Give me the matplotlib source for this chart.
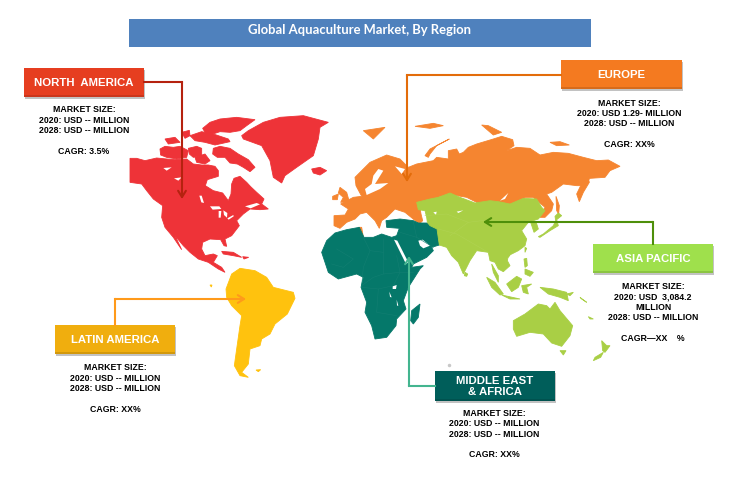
import matplotlib
matplotlib.use("Agg")
import matplotlib.pyplot as plt
from matplotlib.patches import Polygon, Rectangle

plt.rcParams['font.family'] = ['Liberation Sans', 'DejaVu Sans']

TITLE = "Global Aquaculture Market, By Region"

NA_ORIGIN = (130, 90)
north_america = [
    [(0,208),(20,208),(45,215),(80,207),(110,210),(135,212),(170,210),(190,225),(215,228),(235,228),(255,232),(265,245),(265,262),(232,272),(226,290),(250,305),(278,312),(295,335),(303,315),(305,285),(312,268),(330,262),(350,280),(362,293),(380,310),(402,330),(395,345),(415,360),(390,362),(360,360),(340,375),(320,395),(328,410),(305,440),(285,450),(290,472),(282,470),(272,452),(240,450),(218,460),(215,480),(225,500),(250,495),(262,500),(250,520),(275,535),(285,550),(265,540),(235,520),(205,510),(180,490),(160,470),(135,440),(155,482),(130,445),(105,415),(95,385),(98,350),(70,330),(50,305),(35,285),(0,280)],
    [(90,180),(105,172),(130,175),(150,172),(175,185),(170,205),(140,210),(110,205),(92,198)],
    [(175,178),(200,172),(215,178),(215,200),(190,205),(178,195)],
    [(195,205),(225,195),(240,215),(225,225),(200,220)],
    [(250,178),(270,172),(300,178),(325,195),(355,212),(375,235),(360,248),(340,235),(322,225),(300,222),(285,205),(262,205),(248,195)],
    [(218,118),(240,100),(270,90),(320,85),(375,92),(350,110),(330,125),(300,130),(270,128),(240,138),(225,130)],
    [(215,128),(250,135),(295,150),(300,158),(255,168),(225,160),(195,155),(180,140)],
    [(105,150),(135,145),(150,160),(115,165)],
    [(155,130),(178,124),(180,140),(165,148)],
    [(355,125),(400,100),(450,85),(520,80),(595,100),(570,115),(565,150),(550,200),(500,235),(465,260),(455,282),(430,265),(420,215),(395,170),(340,150),(335,140)],
    [(545,240),(570,235),(590,245),(570,258),(550,252)],
    [(275,487),(310,490),(335,505),(310,500),(280,495)],
    [(338,503),(356,505),(342,510)],
]
na_water = [
    [(240,352),(268,352),(274,360),(248,362)],
    [(266,366),(274,366),(272,386),(266,386)],
    [(280,364),(292,372),(291,386),(282,378)],
    [(292,388),(310,378),(311,382),(296,392)],
    [(208,320),(215,320),(222,342),(214,340)],
    [(345,352),(380,342),(390,346),(362,358)],
    [(100,237),(125,235),(110,245)],
    [(132,268),(155,265),(145,275)],
]

EU_ORIGIN = (320, 90)
europe = [
    [(42,380),(75,378),(85,360),(62,345),(100,325),(125,322),(108,290),(105,265),(150,220),(200,198),(240,210),(265,235),(290,225),(340,215),(350,205),(385,210),(385,185),(410,180),(418,195),(430,190),(445,175),(470,165),(520,150),(545,142),(578,152),(582,170),(560,185),(590,175),(630,178),(660,198),(700,190),(745,193),(790,205),(830,215),(865,213),(900,232),(870,245),(855,265),(810,268),(790,290),(770,290),(730,285),(695,310),(680,315),(700,345),(695,365),(675,385),(660,385),(675,355),(640,325),(615,325),(600,345),(570,348),(520,340),(480,345),(440,325),(400,318),(360,322),(340,335),(298,345),(303,375),(308,395),(298,405),(255,370),(225,360),(200,385),(185,395),(178,418),(165,395),(140,370),(120,375),(105,390),(80,400),(60,418),(42,410)],
    [(805,268),(808,280),(790,310),(778,338),(770,315),(782,290)],
    [(60,295),(80,310),(88,338),(62,340),(70,325),(55,312)],
    [(38,322),(55,315),(52,332),(38,332)],
    [(130,125),(195,115),(160,150)],
    [(315,200),(330,180),(388,150),(350,170),(330,195),(325,205)],
    [(285,112),(340,103),(370,110),(330,118)],
    [(485,108),(505,110),(545,130),(520,138)],
    [(690,160),(720,158),(748,168),(710,170)],
    [(708,322),(718,350),(716,375),(710,365)],
    [(115,415),(125,415),(130,445),(120,445)],
]
eu_water = [
    [(175,240),(190,245),(165,285),(205,282),(180,300),(140,318),(135,300),(155,285),(160,260)],
    [(225,232),(255,240),(245,255)],
    [(540,335),(565,312),(555,330)],
]

AF_ORIGIN = (200, 210)
middle_east_africa = [
    [(365,130),(380,95),(405,72),(440,62),(478,55),(492,85),(520,85),(545,75),(575,85),(590,80),(598,58),(560,55),(558,35),(600,30),(640,35),(655,42),(680,42),(712,60),(718,108),(695,115),(700,125),(680,145),(640,165),(635,175),(670,170),(660,180),(625,235),(610,275),(618,300),(590,330),(588,350),(560,385),(525,390),(515,350),(495,310),(500,280),(483,235),(490,205),(470,195),(415,210),(385,190)],
    [(660,285),(655,325),(640,345),(632,335),(635,305)],
]
mea_water = [
    [(582,92),(592,95),(625,160),(618,165)],
    [(655,95),(668,92),(690,110),(670,118),(660,110)],
    [(578,232),(590,228),(588,240),(578,240)],
    [(568,248),(575,265),(570,264)],
    [(590,272),(595,290),(591,290)],
]
mea_borders = [
    [(410,120),(460,150),(430,175),(395,165)],
    [(490,85),(510,125),(550,130),(550,90)],
    [(510,125),(490,175),(485,230),(520,205),(550,195),(550,130)],
    [(550,195),(600,190),(640,190)],
    [(590,140),(600,190),(580,230),(535,240),(485,235)],
    [(535,240),(530,310),(590,320)],
    [(640,38),(650,85),(700,115)],
    [(600,70),(650,85)],
]

SA_ORIGIN = (200, 210)
latin_america = [
    [(78,240),(95,195),(120,178),(165,185),(200,205),(220,235),(280,250),(285,268),(262,315),(225,345),(210,375),(185,390),(180,410),(150,420),(145,465),(125,490),(145,505),(120,500),(103,470),(110,420),(120,350),(125,320),(95,290),(80,265)],
    [(30,228),(36,228),(34,234)],
    [(168,483),(182,482),(175,488)],
]

AP_ORIGIN = (410, 190)
asia_pacific = [
    [(20,40),(60,30),(85,25),(120,12),(150,25),(195,42),(240,35),(265,38),(300,45),(340,28),(380,30),(395,55),(405,65),(385,90),(355,100),(335,125),(350,150),(345,170),(325,185),(295,200),(292,215),(300,230),(280,248),(265,240),(255,220),(240,215),(235,190),(200,185),(180,215),(160,255),(145,220),(125,200),(110,175),(88,168),(81,120),(60,110),(52,100),(50,85),(45,65),(25,62)],
    [(245,225),(265,260),(265,280),(250,250)],
    [(230,265),(255,280),(280,315),(270,318),(245,295)],
    [(275,318),(330,330),(300,330)],
    [(290,285),(320,262),(335,270),(325,295),(305,308)],
    [(335,290),(365,285),(350,295),(355,315),(340,310)],
    [(342,210),(350,208),(352,230),(345,235)],
    [(345,240),(370,250),(360,262),(345,255)],
    [(390,295),(430,300),(470,310),(475,335),(450,325),(415,315)],
    [(470,315),(490,310),(480,320)],
    [(510,325),(530,340),(515,330)],
    [(165,250),(173,255),(170,262),(163,260)],
    [(310,395),(345,375),(385,345),(410,350),(420,360),(435,340),(450,365),(488,410),(480,440),(455,472),(425,462),(400,435),(360,430),(320,442),(310,420)],
    [(450,485),(468,485),(460,498)],
    [(575,455),(590,470),(600,470),(585,490),(578,485)],
    [(580,490),(572,505),(550,515),(555,505)],
    [(385,143),(400,135),(430,110),(437,95),(435,82),(445,72),(455,80),(440,92),(445,110),(420,125),(390,145)],
    [(362,100),(378,98),(385,120),(372,130)],
    [(345,175),(350,178),(345,190)],
    [(290,200),(300,198),(295,205)],
    [(535,383),(550,390),(540,390)],
]
ap_water = [
    [(70,70),(80,68),(78,78)],
    [(140,68),(160,64),(145,72)],
]
ap_borders = [
    [(85,120),(140,135),(200,170),(235,190)],
    [(45,80),(110,75),(175,100),(215,95),(300,95),(355,100)],
    [(120,140),(175,100)],
]

regions = ["NORTH  AMERICA", "EUROPE", "ASIA PACIFIC", "LATIN AMERICA", "MIDDLE EAST\n& AFRICA"]
region_stats = [
    ["MARKET SIZE:", "2020: USD -- MILLION", "2028: USD -- MILLION", "", "CAGR: 3.5%"],
    ["MARKET SIZE:", "2020: USD 1.29- MILLION", "2028: USD -- MILLION", "", "CAGR: XX%"],
    ["MARKET SIZE:", "2020: USD  3,084.2", "MILLION", "2028: USD -- MILLION", "", "CAGR\u2014XX    %"],
    ["MARKET SIZE:", "2020: USD -- MILLION", "2028: USD -- MILLION", "", "CAGR: XX%"],
    ["MARKET SIZE:", "2020: USD -- MILLION", "2028: USD -- MILLION", "", "CAGR: XX%"],
]

# ---- layout and style ----
box_xy = [(24, 69, 120, 29), (561, 61, 121, 29), (593, 245, 120, 29), (55, 326, 120, 29), (435, 372, 120, 30)]
box_col = ["#E63E20", "#F47A20", "#9FE04C", "#F0AE0E", "#005E5A"]
text_xy = [(84, 110), (629, 103), (653, 286.7), (115, 368), (494, 413.7)]
leaders = [
    [(144, 83), (182, 83), (182, 200)],
    [(561, 76), (407, 76), (407, 183)],
    [(653, 245), (653, 223), (483, 223)],
    [(115, 326), (115, 300), (246, 300)],
    [(435, 387), (409, 387), (409, 257)],
]
lead_col = ["#B5220F", "#E36C0A", "#4E8F0A", "#FF9A1A", "#43B58F"]


def fig_pts(points, origin):
    return [(origin[0] + x / 3, origin[1] + y / 3) for x, y in points]


fig = plt.figure(figsize=(7.44, 4.81), dpi=100)
ax = fig.add_axes([0, 0, 1, 1])
ax.set_xlim(0, 744)
ax.set_ylim(481, 0)
ax.axis("off")

ax.add_patch(Rectangle((129, 20), 462, 28, fc="#4F81BD", ec="none"))
ax.text(360, 30, TITLE, color="white", fontsize=9.4, fontweight="bold",
        family=["Lato", "DejaVu Sans"], ha="center", va="center")

layers = [
    (north_america, NA_ORIGIN, "#EE3338"),
    (latin_america, SA_ORIGIN, "#FFC20E"),
    (europe, EU_ORIGIN, "#F58530"),
    (middle_east_africa, AF_ORIGIN, "#05786A"),
    (asia_pacific, AP_ORIGIN, "#A9CF45"),
]
for shapes, origin, colour in layers:
    for shape in shapes:
        ax.add_patch(Polygon(fig_pts(shape, origin), closed=True, fc=colour, ec=colour, lw=0.6))

for shapes, origin in [(na_water, NA_ORIGIN), (eu_water, EU_ORIGIN), (mea_water, AF_ORIGIN), (ap_water, AP_ORIGIN)]:
    for shape in shapes:
        ax.add_patch(Polygon(fig_pts(shape, origin), closed=True, fc="white", ec="none"))

for lines, origin, colour in [(mea_borders, AF_ORIGIN, "#127F72"), (ap_borders, AP_ORIGIN, "#B0D352")]:
    for line in lines:
        pts = fig_pts(line, origin)
        ax.plot([p[0] for p in pts], [p[1] for p in pts], color=colour, lw=0.4)

for pts, colour in zip(leaders, lead_col):
    ax.plot([p[0] for p in pts[:-1]], [p[1] for p in pts[:-1]], color=colour, lw=1.5, solid_joinstyle="miter")
    ax.annotate("", xy=pts[-1], xytext=pts[-2],
                arrowprops=dict(arrowstyle="->,head_length=0.45,head_width=0.28", color=colour, lw=1.5,
                                shrinkA=0, shrinkB=0))

for (x, y, w, h), colour, name in zip(box_xy, box_col, regions):
    ax.add_patch(Rectangle((x + 0.5, y + 1.5), w, h, fc="#A8A8A8", ec="none", alpha=0.7))
    ax.add_patch(Rectangle((x, y), w, h, fc=colour, ec="none"))
    ax.add_patch(Rectangle((x, y + h - 2), w, 2, fc="black", ec="none", alpha=0.12))
    ax.text(x + w / 2, y + h / 2 - 0.5, name, color="white", fontsize=8.2, fontweight="bold",
            ha="center", va="center", linespacing=1.02)

for (x, y), stats in zip(text_xy, region_stats):
    for i, line in enumerate(stats):
        if line:
            ax.text(x, y + i * 10.3, line, color="black", fontsize=6.3, fontweight="bold",
                    ha="center", va="center")

ax.plot([449], [366], marker="o", ms=1.5, color="#C8C8C8", ls="none")

fig.savefig("out.png", dpi=100, facecolor="white")
